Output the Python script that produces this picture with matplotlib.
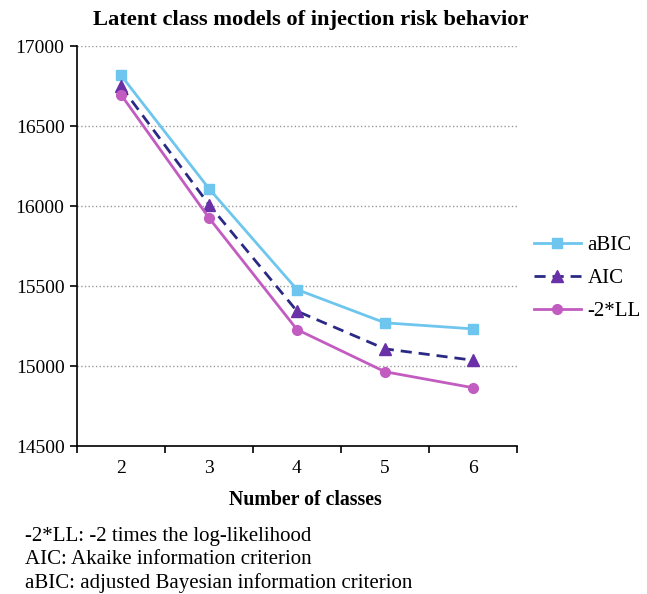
import matplotlib
matplotlib.use("Agg")
import matplotlib.pyplot as plt

plt.rcParams["font.family"] = ["Liberation Serif", "DejaVu Serif"]

classes = ["2", "3", "4", "5", "6"]
abic = [16819, 16110, 15479, 15271, 15233]
aic = [16750, 16010, 15344, 15108, 15037]
ll2 = [16698, 15927, 15229, 14965, 14865]
yticks = [14500, 15000, 15500, 16000, 16500, 17000]
notes = [
    "-2*LL: -2 times the log-likelihood",
    "AIC: Akaike information criterion",
    "aBIC: adjusted Bayesian information criterion",
]

fig = plt.figure(figsize=(6.47, 5.94), dpi=100)
ax = fig.add_axes([0.119, 0.249, 0.680, 0.673])

x = list(range(len(classes)))
ax.plot(x, abic, color="#6ec6ee", lw=2, marker="s", ms=7, label="aBIC")
ax.plot(x, aic, color="#2a2a85", lw=2, ls=(0, (4, 2.5)), marker="^", ms=8,
        mfc="#6a30a8", mec="#6a30a8", label="AIC")
ax.plot(x, ll2, color="#c25cc0", lw=2, marker="o", ms=7, label="-2*LL")

ax.set_xlim(-0.5, len(classes) - 0.5)
ax.set_ylim(14500, 17000)
ax.set_yticks(yticks)
ax.set_xticks(x)
ax.set_xticklabels(classes)
ax.set_xticks([i - 0.5 for i in range(len(classes) + 1)], minor=True)
ax.tick_params(axis="x", which="major", length=0, labelsize=14, pad=10)
ax.tick_params(axis="x", which="minor", length=5, width=1.2, direction="out")
ax.tick_params(axis="y", length=5, width=1.2, labelsize=14, pad=4)
ax.grid(axis="y", color="#999999", ls=":", lw=1)
ax.set_axisbelow(True)
for s in ["top", "right"]:
    ax.spines[s].set_visible(False)
ax.spines["left"].set_linewidth(1.2)
ax.spines["bottom"].set_linewidth(1.2)

ax.set_xlabel("Number of classes", fontsize=14.3, fontweight="bold", labelpad=10)
ax.xaxis.set_label_coords(0.52, -0.11)
fig.text(0.481, 0.966, "Latent class models of injection risk behavior",
         ha="center", va="center", fontsize=16.2, fontweight="bold")

ax.legend(loc="center left", bbox_to_anchor=(0.995, 0.42), frameon=False,
          fontsize=15, handlelength=2.3, labelspacing=0.65, handletextpad=0.3)

for i, t in enumerate(notes):
    fig.text(0.039, 0.097 - i * 0.039, t, ha="left", va="center", fontsize=15)

fig.savefig("out.png", dpi=100)
